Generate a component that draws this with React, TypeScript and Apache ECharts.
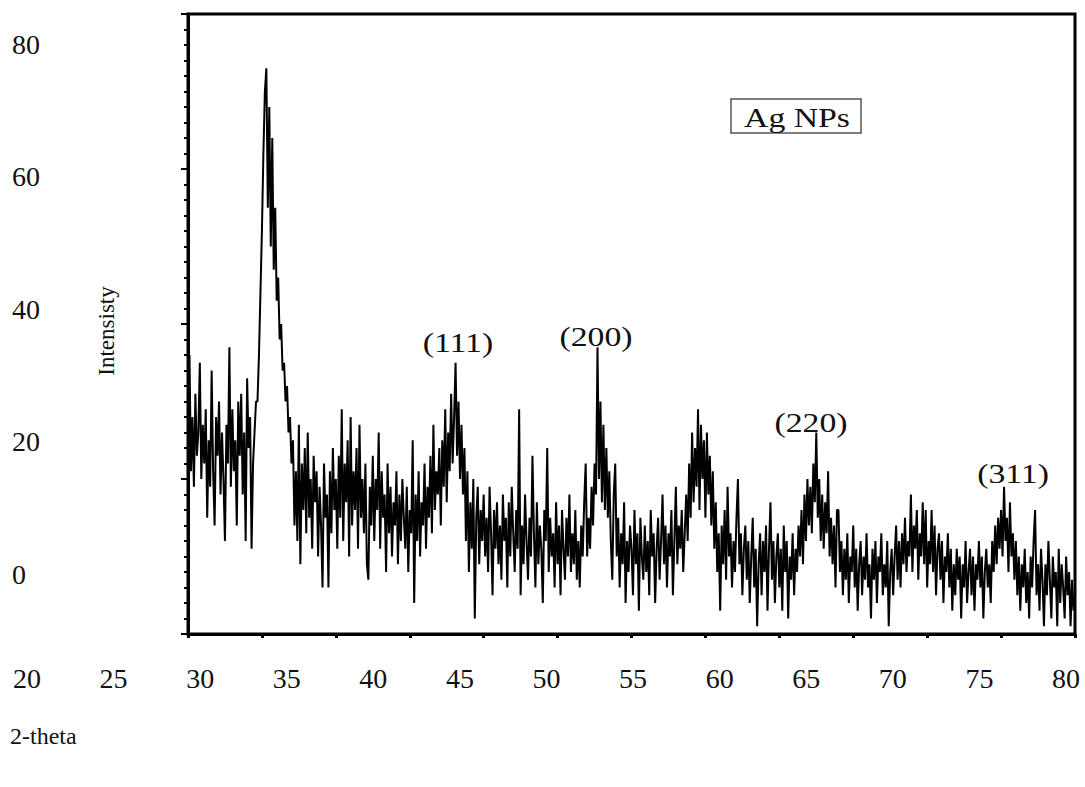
import React, { useEffect, useRef } from 'react';
import * as echarts from 'echarts';

// XRD scan grid (instrument step) and intensities
const scanStart = 20;
const scanStep = 0.1;
const intensity = [
  30, 36, 21, 28, 19, 31, 23, 26, 35, 20,
  27, 22, 29, 15, 25, 19, 34, 21, 14, 28,
  23, 30, 18, 26, 20, 12, 27, 22, 37, 19,
  29, 21, 25, 14, 30, 23, 31, 18, 26, 12,
  33, 24, 28, 11, 22, 26, 30, 30, 36, 44,
  52, 62, 70, 73, 55, 68, 50, 64, 47, 55,
  43, 46, 38, 40, 34, 35, 30, 32, 26, 28,
  22, 25, 14, 21, 12, 27, 9, 22, 16, 24,
  13, 26, 15, 20, 11, 23, 17, 21, 10, 19,
  14, 6, 22, 15, 18, 6, 21, 13, 24, 16,
  20, 11, 23, 15, 29, 12, 22, 17, 25, 10,
  28, 14, 21, 16, 24, 11, 27, 15, 20, 13,
  22, 9, 7, 19, 14, 23, 12, 20, 16, 26,
  11, 21, 15, 18, 8, 22, 13, 19, 10, 17,
  14, 21, 9, 18, 12, 20, 15, 11, 19, 8,
  16, 13, 25, 4, 18, 12, 21, 10, 17, 14,
  22, 11, 19, 15, 23, 13, 27, 16, 21, 18,
  24, 14, 25, 19, 29, 17, 26, 21, 31, 22,
  28, 35, 23, 30, 20, 27, 18, 24, 12, 21,
  8, 17, 11, 20, 2, 15, 19, 9, 16, 12,
  18, 10, 15, 8, 19, 13, 5, 16, 11, 17,
  9, 14, 7, 18, 12, 15, 6, 17, 10, 19,
  13, 8, 16, 11, 29, 5, 14, 9, 18, 12,
  7, 15, 10, 23, 13, 6, 17, 9, 14, 11,
  4, 16, 12, 24, 8, 15, 10, 13, 6, 17,
  9, 14, 5, 16, 11, 7, 15, 10, 18, 8,
  13, 9, 16, 7, 12, 6, 14, 10, 17, 22,
  10, 15, 11, 19, 14, 22, 18, 37, 20, 30,
  17, 27, 16, 24, 15, 21, 12, 7, 18, 22,
  10, 15, 6, 13, 9, 17, 4, 12, 8, 14,
  11, 5, 16, 9, 13, 3, 15, 10, 7, 14,
  8, 12, 5, 16, 10, 13, 4, 11, 15, 7,
  12, 18, 9, 14, 6, 13, 10, 16, 5, 12,
  19, 9, 14, 11, 16, 8, 13, 18, 12, 22,
  15, 26, 17, 24, 19, 29, 16, 27, 20, 25,
  15, 26, 18, 23, 14, 21, 11, 17, 8, 13,
  3, 14, 9, 16, 7, 19, 10, 13, 6, 12,
  8, 15, 20, 9, 13, 5, 11, 14, 7, 12,
  4, 10, 15, 6, 11, 1, 9, 13, 5, 12,
  8, 14, 3, 11, 17, 7, 12, 4, 10, 13,
  6, 11, 3, 14, 8, 12, 2, 10, 7, 13,
  5, 11, 8, 14, 10, 16, 9, 18, 12, 20,
  14, 19, 13, 22, 17, 26, 15, 20, 12, 18,
  11, 17, 13, 21, 10, 15, 9, 14, 6, 16,
  16, 8, 12, 5, 11, 7, 13, 4, 10, 8,
  14, 6, 11, 3, 9, 12, 5, 10, 7, 13,
  6, 9, 2, 11, 7, 12, 4, 10, 8, 13,
  5, 9, 6, 12, 1, 8, 11, 5, 10, 14,
  7, 12, 6, 13, 9, 15, 8, 12, 10, 18,
  8, 14, 11, 16, 7, 13, 10, 17, 9, 16,
  6, 12, 9, 16, 8, 14, 5, 11, 13, 7,
  12, 4, 10, 8, 13, 6, 11, 3, 9, 5,
  11, 7, 10, 2, 9, 6, 12, 4, 8, 11,
  5, 10, 3, 9, 7, 12, 6, 10, 2, 8,
  11, 6, 9, 4, 12, 8, 14, 9, 15, 11,
  16, 10, 19, 12, 15, 8, 17, 10, 13, 7,
  12, 5, 10, 3, 9, 6, 11, 4, 8, 2,
  10, 6, 12, 16, 5, 9, 3, 11, 7, 1,
  9, 5, 12, 7, 2, 10, 6, 8, 1, 11,
  4, 9, 6, 2, 10, 5, 8, 1, 7, 3,
  5,
];

// Tick labels
const xTickLabels = [20, 25, 30, 35, 40, 45, 50, 55, 60, 65, 70, 75, 80];
const yTickLabels = [0, 20, 40, 60, 80];

// Peak annotations (label anchor in 2-theta / intensity units)
const peakLabels = [
  { text: '(111)', x: 38.26, y: 37.5 },
  { text: '(200)', x: 47.6, y: 38.3 },
  { text: '(220)', x: 62.14, y: 27.2 },
  { text: '(311)', x: 75.81, y: 20.6 },
];

const legendText = 'Ag NPs';
const yTitle = 'Intensisty';
const xTitle = '2-theta';

export default function App() {
  const ref = useRef<HTMLDivElement>(null);
  useEffect(() => {
    if (!ref.current) return;
    const chart = echarts.init(ref.current, null, { renderer: 'svg' });
    const serif = '"Liberation Serif", "Times New Roman", serif';
    const data = intensity.map((v, i) => [+(scanStart + i * scanStep).toFixed(2), v]);
    const xMin = xTickLabels[0];
    const xMax = xTickLabels[xTickLabels.length - 1];
    const xInt = xTickLabels[1] - xTickLabels[0];
    const yMin = yTickLabels[0];
    const yMax = yTickLabels[yTickLabels.length - 1];
    const yInt = yTickLabels[1] - yTickLabels[0];

    const option: any = {
      animation: false,
      backgroundColor: '#ffffff',
      grid: [
        { left: 188, top: 14, width: 887, height: 620, show: true, borderColor: '#000', borderWidth: 3, backgroundColor: 'transparent' },
        { left: 27, top: 655, width: 1039, height: 1 },
        { left: 20, top: 44, width: 1, height: 530 },
      ],
      xAxis: [
        {
          gridIndex: 0, type: 'value', min: xMin, max: xMax, interval: xInt,
          axisLine: { show: true, onZero: false, lineStyle: { color: '#000', width: 3 } },
          axisTick: { show: true, length: 4, lineStyle: { color: '#000', width: 3 } },
          axisLabel: { show: false }, splitLine: { show: false },
        },
        {
          gridIndex: 1, type: 'value', min: xMin, max: xMax, interval: xInt,
          axisLine: { show: false }, axisTick: { show: false }, splitLine: { show: false },
          axisLabel: { fontFamily: serif, fontSize: 28, color: '#111', margin: 8 },
        },
        { gridIndex: 2, type: 'value', show: false },
      ],
      yAxis: [
        {
          gridIndex: 0, type: 'value', min: yMin, max: yMax, interval: yInt,
          axisLine: { show: true, onZero: false, lineStyle: { color: '#000', width: 3 } },
          axisTick: { show: true, length: 7, lineStyle: { color: '#000', width: 2 } },
          minorTick: { show: true, splitNumber: 10, length: 4, lineStyle: { color: '#000', width: 2 } },
          axisLabel: { show: false }, splitLine: { show: false }, minorSplitLine: { show: false },
        },
        { gridIndex: 1, type: 'value', show: false },
        {
          gridIndex: 2, type: 'value', min: yMin, max: yMax, interval: yInt,
          axisLine: { show: false }, axisTick: { show: false }, splitLine: { show: false },
          axisLabel: { fontFamily: serif, fontSize: 28, color: '#111', align: 'left', margin: 8 },
        },
      ],
      series: [
        {
          type: 'line', xAxisIndex: 0, yAxisIndex: 0, data,
          showSymbol: false, symbol: 'none', silent: true,
          lineStyle: { color: '#000', width: 2 },
        },
      ],
    };
    chart.setOption(option);

    const txt = (text: string, size: number, extra: any = {}) => ({
      text, fontFamily: serif, fontSize: size, fill: '#111',
      textAlign: 'center', textVerticalAlign: 'middle', align: 'center', verticalAlign: 'middle',
      ...extra,
    });

    const peakGraphics = peakLabels.map((p) => {
      const pt = chart.convertToPixel({ xAxisIndex: 0, yAxisIndex: 0 }, [p.x, p.y]) as number[];
      return { type: 'text', x: pt[0], y: pt[1], scaleX: 1.25, z: 100, style: txt(p.text, 27) };
    });

    chart.setOption({
      graphic: {
        elements: [
          { type: 'rect', z: 90, shape: { x: 731, y: 99, width: 130, height: 34 }, style: { fill: '#fff', stroke: '#555', lineWidth: 1.5 } },
          { type: 'text', z: 100, x: 797, y: 118, scaleX: 1.25, style: txt(legendText, 27) },
          { type: 'text', z: 100, x: 106, y: 331, rotation: Math.PI / 2, style: txt(yTitle, 23) },
          { type: 'text', z: 100, x: 10, y: 736, style: txt(xTitle, 24, { textAlign: 'left', align: 'left' }) },
          ...peakGraphics,
        ],
      },
    });

    return () => chart.dispose();
  }, []);
  return <div ref={ref} style={{ position: 'fixed', left: 0, top: 0, width: 1085, height: 787, background: '#fff' }} />;
}
